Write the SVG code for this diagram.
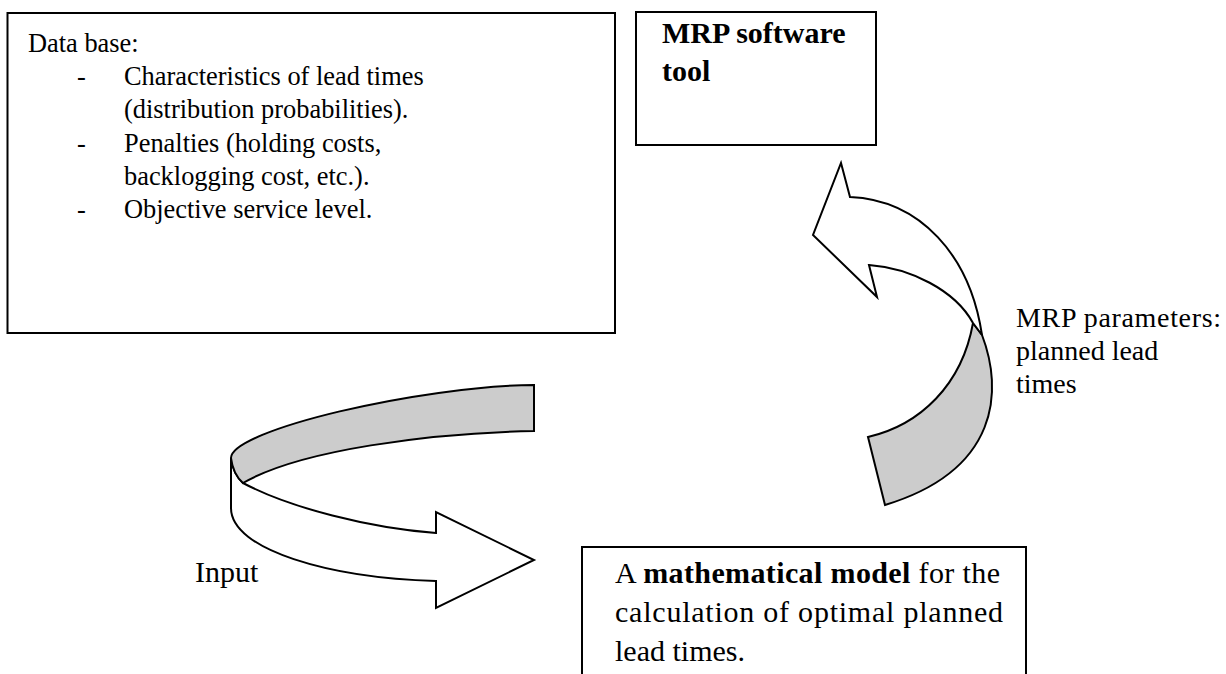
<svg xmlns="http://www.w3.org/2000/svg" width="1226" height="674" viewBox="0 0 1226 674">
  <style>
    .box { fill: #ffffff; stroke: #000000; stroke-width: 2; }
    .txt { font-family: "Liberation Serif", "Times New Roman", serif; fill: #000000; }
    .t1 { font-size: 26.4px; }
    .t2 { font-size: 30px; }
    .t3 { font-size: 28px; }
    .b { font-weight: bold; }
    .face-front { fill: #ffffff; stroke: #000000; stroke-width: 2; stroke-linejoin: miter; }
    .face-back { fill: #cccccc; stroke: #000000; stroke-width: 2; stroke-linejoin: miter; }
  </style>
  <rect width="1226" height="674" fill="#ffffff"/>

  <!-- Data base box -->
  <g id="database">
    <rect class="box" x="7.5" y="13" width="607.5" height="320"/>
    <text class="txt t1" x="28" y="52">Data base:</text>
    <text class="txt t1" x="77" y="85">-</text>
    <text class="txt t1" x="124" y="85">Characteristics of lead times</text>
    <text class="txt t1" x="124" y="118">(distribution probabilities).</text>
    <text class="txt t1" x="77" y="152">-</text>
    <text class="txt t1" x="124" y="152">Penalties (holding costs,</text>
    <text class="txt t1" x="124" y="185">backlogging cost, etc.).</text>
    <text class="txt t1" x="77" y="218">-</text>
    <text class="txt t1" x="124" y="218">Objective service level.</text>
  </g>

  <!-- MRP software tool box -->
  <g id="mrp-tool">
    <rect class="box" x="636" y="12" width="240" height="133"/>
    <text class="txt t2 b" x="662" y="43">MRP software</text>
    <text class="txt t2 b" x="662" y="81">tool</text>
  </g>

  <!-- Mathematical model box, running off the bottom edge -->
  <g id="model">
    <path class="box" d="M582,676 L582,547 L1026,547 L1026,676"/>
    <text class="txt t2" x="615" y="583" textLength="385">A <tspan class="b">mathematical model</tspan> for the</text>
    <text class="txt t2" x="615" y="622" textLength="388">calculation of optimal planned</text>
    <text class="txt t2" x="615" y="661">lead times.</text>
  </g>

  <!-- Connectors: ribbon arrows and their labels -->
  <g id="connectors">
    <!-- Input ribbon: database into the model -->
    <g id="input-arrow">
      <path class="face-front" d="M231,458 Q233,474 243,483 C290,508 370,528 436,533 L436,512 L534,560 L436,608 L436,581 C330,578 231,550 231,508 Z"/>
      <path class="face-back" d="M534,385 C420,386 231,430 231,458 Q233,474 243,483 C300,450 430,433 534,431 Z"/>
    </g>
    <!-- Output ribbon: model back to the MRP tool -->
    <g id="output-arrow">
      <path class="face-back" d="M973,323 L982,335 C1003,390 1000,470 885,505 L868,437 C920,425 962,385 973,323 Z"/>
      <path class="face-front" d="M850,197 C920,200 970,255 982,335 L973,323 C955,290 910,268 869,265 L877,297 L813,235 L841,163 Z"/>
    </g>
    <text class="txt t2" x="195" y="582">Input</text>
    <text class="txt t3" x="1016" y="327" textLength="205">MRP parameters:</text>
    <text class="txt t3" x="1016" y="360">planned lead</text>
    <text class="txt t3" x="1016" y="393">times</text>
  </g>
</svg>
